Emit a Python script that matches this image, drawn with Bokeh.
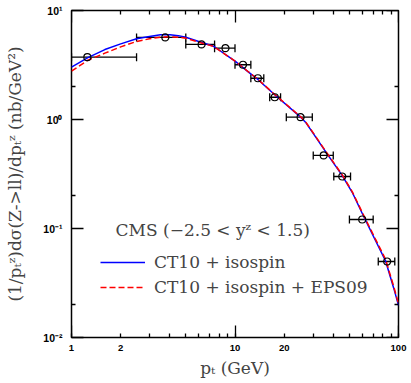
from bokeh.plotting import figure
from bokeh.models import (LogAxis, FixedTicker, ColumnDataSource, Whisker, Legend,
                          LegendItem, Label, Range1d, TeeHead)
from bokeh.embed import file_html
from bokeh.resources import INLINE

# ---- data ----
pt = [1.25, 3.75, 6.25, 8.75, 11.2, 13.8, 17.5, 25.2, 34.9, 45.3, 60.0, 85.3]
pt_lo = [1.0, 2.5, 5.0, 7.5, 10.0, 12.5, 16.3, 20.6, 30.1, 40.2, 50.1, 75.2]
pt_hi = [2.5, 5.0, 7.5, 10.0, 12.5, 15.0, 19.0, 29.7, 39.9, 50.9, 70.0, 94.9]
dsig = [3.73, 5.66, 4.88, 4.51, 3.18, 2.39, 1.60, 1.05, 0.468, 0.300, 0.121, 0.0498]

curve_pt = [1.0, 1.26, 1.6, 2.0, 2.5, 3.0, 3.5, 4.0, 4.5, 5.0, 6.0, 7.4, 10.1, 12.1,
            13.8, 17.7, 25.2, 27.0, 36.6, 45.3, 52.1, 62.2, 72.3, 83.2, 93.6, 100.0]
ct10_iso = [3.02, 3.70, 4.38, 4.94, 5.50, 5.77, 5.98, 5.98, 5.88, 5.69, 5.20, 4.70,
            3.40, 2.72, 2.33, 1.66, 1.05, 0.945, 0.484, 0.306, 0.215, 0.123, 0.0776,
            0.0508, 0.0282, 0.0197]
ct10_iso_eps09 = [2.78, 3.50, 4.06, 4.64, 5.20, 5.50, 5.69, 5.74, 5.69, 5.57, 5.12, 4.68,
                  3.40, 2.73, 2.34, 1.67, 1.06, 0.955, 0.49, 0.31, 0.218, 0.126, 0.080,
                  0.0525, 0.0292, 0.0204]

x_labeled = [1.0, 2.0, 10.0, 20.0, 100.0]
x_unlabeled_minor = [3.0, 4.0, 5.0, 6.0, 7.0, 8.0, 9.0, 30.0, 40.0, 50.0, 60.0, 70.0, 80.0, 90.0]
x_major = [1.0, 10.0, 100.0]
x_minor = [2.0, 3.0, 4.0, 5.0, 6.0, 7.0, 8.0, 9.0, 20.0, 30.0, 40.0, 50.0, 60.0, 70.0, 80.0, 90.0]
y_major = [0.01, 0.1, 1.0, 10.0]
y_minor = [0.02, 0.2, 2.0]
y_tick_labels = ["10⁻²", "10⁻¹", "10⁰", "10¹"]

series_labels = ["CT10 + isospin", "CT10 + isospin + EPS09"]
header = "CMS (−2.5 < yᶻ < 1.5)"
x_title = "pₜ (GeV)"
y_title = "(1/pₜᶻ)dσ(Z->ll)/dpₜᶻ (nb/GeV²)"

SERIF = "DejaVu Serif"
SANS = "Liberation Sans"

p = figure(width=411, height=383, x_axis_type="log", y_axis_type="log",
           x_range=Range1d(1, 100), y_range=Range1d(0.01, 10),
           x_axis_location=None, y_axis_location=None,
           output_backend="svg", toolbar_location=None,
           min_border_left=71, min_border_right=13, min_border_top=10, min_border_bottom=46)
p.grid.visible = False
p.outline_line_color = "black"
p.outline_line_width = 1.5
p.background_fill_color = "white"
p.border_fill_color = "white"


def style_axis(ax, major_in, minor_in, labels=True, size="9.5px"):
    ax.major_tick_in = major_in
    ax.major_tick_out = 0
    ax.minor_tick_in = minor_in
    ax.minor_tick_out = 0
    ax.major_tick_line_width = 1.3
    ax.minor_tick_line_width = 1.3
    ax.axis_line_color = None
    if labels:
        ax.major_label_text_font = SANS
        ax.major_label_text_font_style = "bold"
        ax.major_label_text_font_size = size
        ax.major_label_text_color = "black"
    else:
        ax.major_label_text_color = None


# bottom: labelled ticks (1, 2, 10, 20, 100) + short minor ticks
xa = LogAxis(ticker=FixedTicker(ticks=x_labeled, minor_ticks=x_unlabeled_minor))
style_axis(xa, 4, 4)
xa.major_label_standoff = 7
xa.axis_label = x_title
xa.axis_label_text_font = SERIF
xa.axis_label_text_font_style = "normal"
xa.axis_label_text_font_size = "17px"
xa.axis_label_standoff = 4
p.add_layout(xa, "below")

# bottom: long decade ticks only (drawn inside the frame)
xb = LogAxis(ticker=FixedTicker(ticks=x_major, minor_ticks=[]), fixed_location=0.01)
style_axis(xb, 12, 0, labels=False)
p.add_layout(xb, "below")

# top
xt = LogAxis(ticker=FixedTicker(ticks=x_major, minor_ticks=x_minor), fixed_location=10.0)
style_axis(xt, 12, 4, labels=False)
p.add_layout(xt, "above")

# left
ya = LogAxis(ticker=FixedTicker(ticks=y_major, minor_ticks=y_minor))
style_axis(ya, 12, 4, size="10.5px")
ya.major_label_overrides = dict(zip(y_major, y_tick_labels))
ya.major_label_standoff = 9
ya.axis_label = y_title
ya.axis_label_text_font = SERIF
ya.axis_label_text_font_style = "normal"
ya.axis_label_text_font_size = "17px"
ya.axis_label_standoff = 15
p.add_layout(ya, "left")

# right
yr = LogAxis(ticker=FixedTicker(ticks=y_major, minor_ticks=y_minor), fixed_location=100.0)
style_axis(yr, 12, 4, labels=False)
p.add_layout(yr, "right")

# curves
csrc = ColumnDataSource(dict(pt=curve_pt, iso=ct10_iso, eps=ct10_iso_eps09))
r_blue = p.line("pt", "iso", source=csrc, line_color="#0000ff", line_width=1.5)
r_red = p.line("pt", "eps", source=csrc, line_color="#ff0000", line_width=1.5, line_dash="6 3")

# data points
dsrc = ColumnDataSource(dict(pt=pt, lo=pt_lo, hi=pt_hi, y=dsig))
wh = Whisker(base="y", lower="lo", upper="hi", dimension="width", source=dsrc,
             line_color="black", line_width=1.3,
             upper_head=TeeHead(size=8, line_width=1.3, line_color="black"),
             lower_head=TeeHead(size=8, line_width=1.3, line_color="black"))
p.add_layout(wh)
p.scatter("pt", "y", source=dsrc, marker="circle", size=7, fill_color=None,
          line_color="black", line_width=1.2)

# legend
leg = Legend(items=[LegendItem(label=series_labels[0], renderers=[r_blue]),
                    LegendItem(label=series_labels[1], renderers=[r_red])],
             location=(29, 40), glyph_width=45, glyph_height=20, label_height=20,
             spacing=5, padding=0, margin=0, border_line_color=None,
             background_fill_alpha=0, label_standoff=9,
             label_text_font=SERIF, label_text_font_size="17px")
p.add_layout(leg)

p.add_layout(Label(x=1.86, y=0.096, text=header, text_baseline="middle",
                   text_font=SERIF, text_font_size="17px"))

open("out.html", "w").write(file_html(p, INLINE))
